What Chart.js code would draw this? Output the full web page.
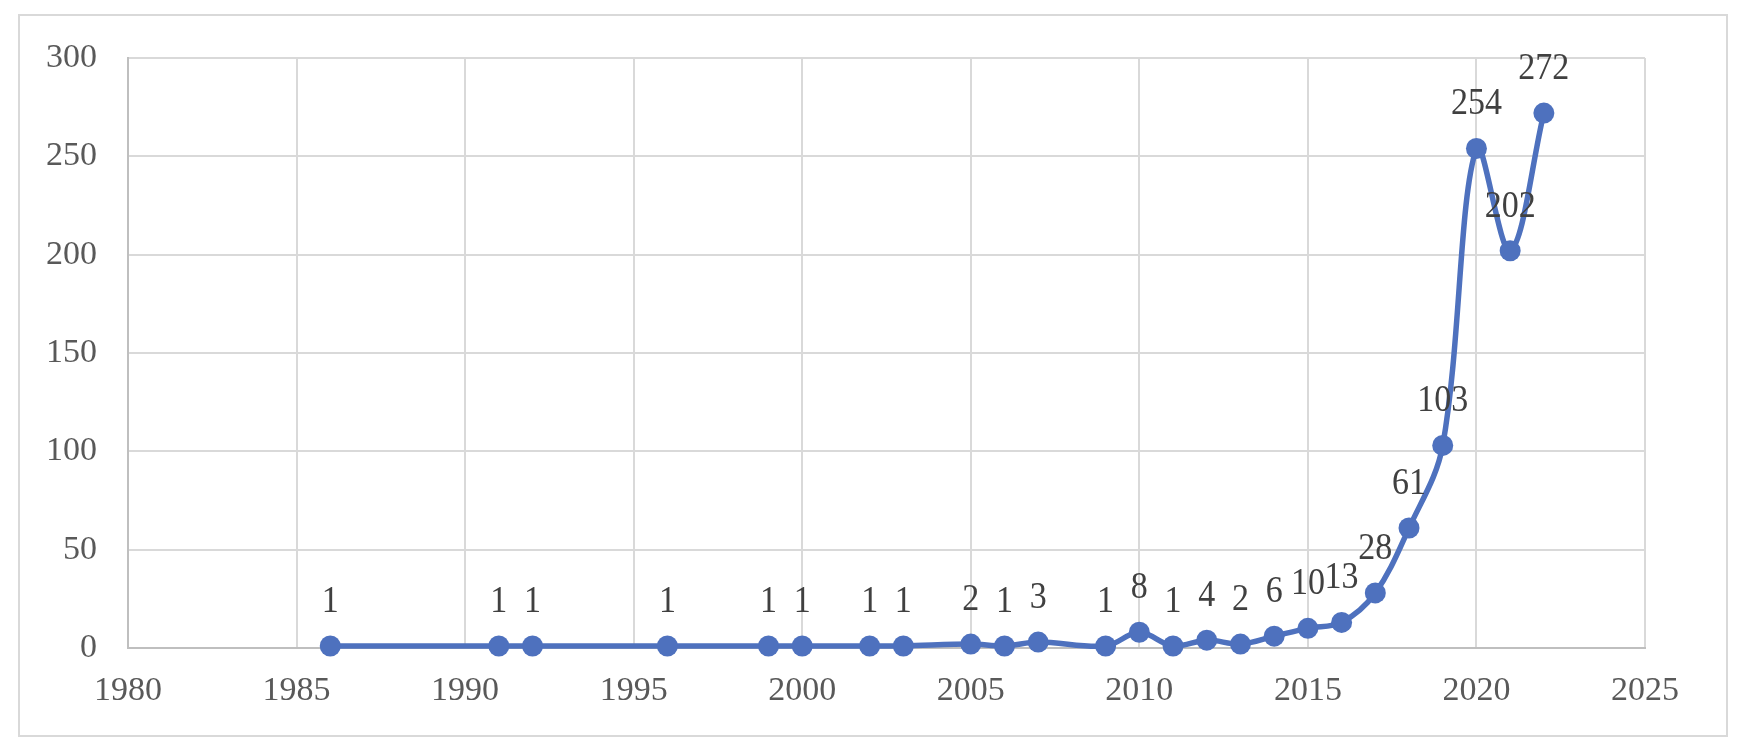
<!DOCTYPE html>
<html>
<head>
<meta charset="utf-8">
<script src="https://cdn.jsdelivr.net/npm/chart.js@4"></script>
<style>
  html, body { margin: 0; padding: 0; background: #fff; }
  #wrap { position: relative; width: 1746px; height: 752px; }
  #frame {
    position: absolute; left: 18px; top: 14px; width: 1706px; height: 719px;
    border: 2px solid #d9d9d9;
  }
  canvas { position: absolute; left: 0; top: 0; }
</style>
</head>
<body>
<div id="wrap">
  <div id="frame"></div>
  <canvas id="chart" width="1746" height="752"></canvas>
</div>
<script>
const years = [1986, 1991, 1992, 1996, 1999, 2000, 2002, 2003, 2005, 2006, 2007, 2009, 2010,
  2011, 2012, 2013, 2014, 2015, 2016, 2017, 2018, 2019, 2020, 2021, 2022];
const counts = [1, 1, 1, 1, 1, 1, 1, 1, 2, 1, 3, 1, 8,
  1, 4, 2, 6, 10, 13, 28, 61, 103, 254, 202, 272];

const xMin = 1980, xMax = 2025, xStep = 5;
const yMin = 0, yMax = 300, yStep = 50;

const fontFamily = "'Liberation Serif', 'Times New Roman', serif";
const lineColor = "#4e71be";

// value above each point, stretched a little taller like the original
const valueLabels = {
  id: "valueLabels",
  afterDatasetsDraw(chart) {
    const ctx = chart.ctx;
    const meta = chart.getDatasetMeta(0);
    meta.data.forEach((pt, i) => {
      ctx.save();
      ctx.translate(pt.x, pt.y - 34);
      ctx.scale(1, 1.12);
      ctx.font = "34px " + fontFamily;
      ctx.fillStyle = "#404040";
      ctx.textAlign = "center";
      ctx.textBaseline = "alphabetic";
      ctx.fillText(String(counts[i]), 0, 0);
      ctx.restore();
    });
  },
};

const points = years.map((y, i) => ({ x: y, y: counts[i] }));

new Chart(document.getElementById("chart").getContext("2d"), {
  type: "line",
  data: {
    datasets: [
      {
        data: points,
        borderColor: lineColor,
        backgroundColor: lineColor,
        borderWidth: 5.5,
        pointRadius: 10.5,
        pointBorderWidth: 0,
        pointBackgroundColor: lineColor,
        tension: 0.35,
        fill: false,
        clip: false,
      },
    ],
  },
  options: {
    responsive: false,
    animation: false,
    layout: { padding: { left: 0, right: 101, top: 58, bottom: 0 } },
    plugins: { legend: { display: false }, tooltip: { enabled: false } },
    scales: {
      x: {
        type: "linear",
        min: xMin,
        max: xMax,
        afterFit: (scale) => { scale.height = 104; },
        ticks: {
          stepSize: xStep,
          padding: 23,
          color: "#595959",
          font: { family: fontFamily, size: 34 },
          callback: (v) => String(v),
        },
        grid: { color: "#d9d9d9", lineWidth: 2, drawTicks: false },
        border: { color: "#bfbfbf", width: 2 },
      },
      y: {
        min: yMin,
        max: yMax,
        afterFit: (scale) => { scale.width = 128; },
        ticks: {
          stepSize: yStep,
          padding: 31,
          color: "#595959",
          font: { family: fontFamily, size: 34 },
        },
        grid: { color: "#d9d9d9", lineWidth: 2, drawTicks: false },
        border: { color: "#bfbfbf", width: 2 },
      },
    },
  },
  plugins: [valueLabels],
});
</script>
</body>
</html>
